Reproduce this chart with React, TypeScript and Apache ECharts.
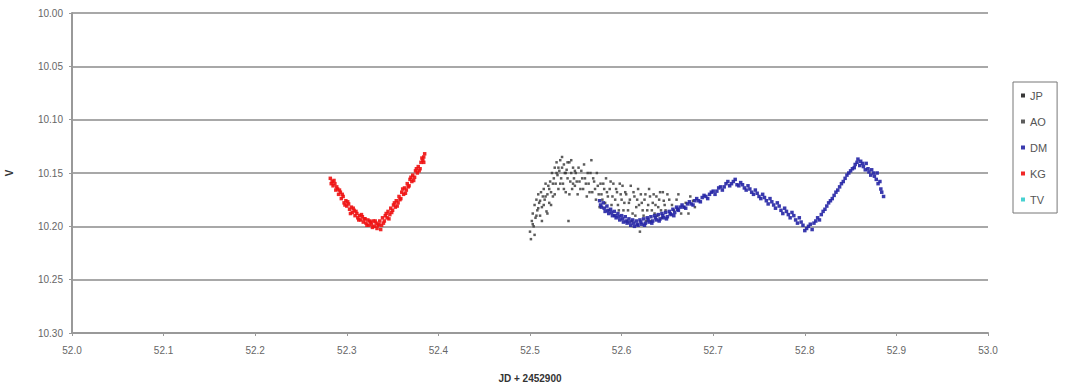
import React, { useEffect, useRef } from "react";
import * as echarts from "echarts";

const seriesNames = ["JP", "AO", "DM", "KG", "TV"];
const seriesColors = ["#222222", "#333333", "#2525a5", "#ee1111", "#33cccc"];

const xTicks = { min: 52.0, max: 53.0, interval: 0.1 };
const yTicks = { min: 10.0, max: 10.3, interval: 0.05 };

const JP: number[][] = [];
const TV: number[][] = [];

const KG: number[][] = [
  [52.282, 10.155], [52.284, 10.158], [52.285, 10.162], [52.287, 10.160], [52.288, 10.166],
  [52.290, 10.165], [52.291, 10.170], [52.293, 10.168], [52.294, 10.174], [52.296, 10.172],
  [52.297, 10.178], [52.299, 10.176], [52.300, 10.181], [52.302, 10.179], [52.303, 10.184],
  [52.305, 10.182], [52.306, 10.187], [52.308, 10.185], [52.309, 10.190], [52.311, 10.188],
  [52.312, 10.192], [52.314, 10.190], [52.315, 10.194], [52.317, 10.191], [52.318, 10.196],
  [52.320, 10.193], [52.321, 10.197], [52.323, 10.194], [52.324, 10.199], [52.326, 10.196],
  [52.327, 10.198], [52.329, 10.195], [52.330, 10.200], [52.332, 10.197], [52.333, 10.202],
  [52.335, 10.198], [52.336, 10.195], [52.338, 10.199], [52.339, 10.192], [52.341, 10.195],
  [52.342, 10.190], [52.344, 10.192], [52.345, 10.186], [52.347, 10.189], [52.348, 10.183],
  [52.350, 10.185], [52.351, 10.180], [52.353, 10.182], [52.354, 10.176], [52.356, 10.178],
  [52.357, 10.172], [52.359, 10.174], [52.360, 10.168], [52.362, 10.170], [52.363, 10.164],
  [52.365, 10.166], [52.366, 10.160], [52.368, 10.162], [52.369, 10.156], [52.371, 10.158],
  [52.372, 10.152], [52.374, 10.154], [52.375, 10.148], [52.377, 10.150], [52.378, 10.144],
  [52.380, 10.146], [52.381, 10.140], [52.383, 10.138], [52.384, 10.135], [52.385, 10.132],
  [52.283, 10.160], [52.286, 10.157], [52.289, 10.163], [52.292, 10.166], [52.295, 10.170],
  [52.298, 10.180], [52.301, 10.177], [52.304, 10.188], [52.307, 10.183], [52.310, 10.186],
  [52.313, 10.194], [52.316, 10.189], [52.319, 10.193], [52.322, 10.199], [52.325, 10.195],
  [52.328, 10.201], [52.331, 10.195], [52.334, 10.199], [52.337, 10.203], [52.340, 10.197],
  [52.343, 10.188], [52.346, 10.193], [52.349, 10.187], [52.352, 10.178], [52.355, 10.181],
  [52.358, 10.175], [52.361, 10.165], [52.364, 10.169], [52.367, 10.163], [52.370, 10.154],
  [52.373, 10.157], [52.376, 10.146], [52.379, 10.148], [52.382, 10.136], [52.384, 10.140],
];

const AO: number[][] = [
  [52.500, 10.205], [52.501, 10.212], [52.502, 10.195], [52.503, 10.188], [52.504, 10.200],
  [52.505, 10.180], [52.506, 10.192], [52.507, 10.175], [52.508, 10.185], [52.509, 10.170],
  [52.510, 10.178], [52.511, 10.190], [52.512, 10.168], [52.513, 10.182], [52.514, 10.172],
  [52.515, 10.165], [52.516, 10.175], [52.517, 10.160], [52.518, 10.186], [52.519, 10.170],
  [52.520, 10.162], [52.521, 10.178], [52.522, 10.158], [52.523, 10.168], [52.524, 10.150],
  [52.525, 10.172], [52.526, 10.155], [52.527, 10.145], [52.528, 10.160], [52.529, 10.140],
  [52.530, 10.152], [52.531, 10.165], [52.532, 10.148], [52.533, 10.138], [52.534, 10.155],
  [52.535, 10.145], [52.536, 10.160], [52.537, 10.142], [52.538, 10.150], [52.539, 10.168],
  [52.540, 10.147], [52.541, 10.155], [52.542, 10.195], [52.543, 10.140], [52.544, 10.158],
  [52.545, 10.150], [52.546, 10.165], [52.547, 10.145], [52.548, 10.155], [52.549, 10.162],
  [52.550, 10.150], [52.552, 10.170], [52.554, 10.158], [52.556, 10.148], [52.558, 10.165],
  [52.560, 10.155], [52.562, 10.172], [52.564, 10.160], [52.566, 10.150], [52.568, 10.168],
  [52.570, 10.158], [52.572, 10.175], [52.574, 10.162], [52.576, 10.182], [52.578, 10.170],
  [52.580, 10.160], [52.582, 10.178], [52.584, 10.168], [52.586, 10.185], [52.588, 10.158],
  [52.590, 10.172], [52.592, 10.190], [52.594, 10.165], [52.596, 10.180], [52.598, 10.160],
  [52.600, 10.175], [52.602, 10.185], [52.604, 10.168], [52.606, 10.195], [52.608, 10.178],
  [52.610, 10.162], [52.612, 10.188], [52.614, 10.172], [52.616, 10.182], [52.618, 10.165],
  [52.620, 10.205], [52.622, 10.178], [52.624, 10.190], [52.626, 10.170], [52.628, 10.185],
  [52.630, 10.165], [52.632, 10.195], [52.634, 10.178], [52.636, 10.188], [52.638, 10.172],
  [52.640, 10.182], [52.642, 10.168], [52.644, 10.192], [52.646, 10.176], [52.648, 10.185],
  [52.650, 10.170], [52.655, 10.180], [52.660, 10.175], [52.665, 10.188], [52.670, 10.178],
  [52.675, 10.172], [52.680, 10.182],
  [52.503, 10.198], [52.505, 10.208], [52.507, 10.190], [52.509, 10.183], [52.511, 10.176],
  [52.513, 10.195], [52.515, 10.180], [52.517, 10.172], [52.519, 10.188], [52.521, 10.165],
  [52.523, 10.180], [52.525, 10.160], [52.527, 10.170], [52.529, 10.150], [52.531, 10.145],
  [52.533, 10.160], [52.535, 10.135], [52.537, 10.165], [52.539, 10.150], [52.541, 10.140],
  [52.543, 10.170], [52.545, 10.138], [52.547, 10.160], [52.549, 10.148], [52.551, 10.158],
  [52.553, 10.145], [52.555, 10.165], [52.557, 10.155], [52.559, 10.142], [52.561, 10.160],
  [52.563, 10.150], [52.565, 10.168], [52.567, 10.138], [52.569, 10.155], [52.571, 10.165],
  [52.573, 10.150], [52.575, 10.170], [52.577, 10.160], [52.579, 10.175], [52.581, 10.165],
  [52.583, 10.155], [52.585, 10.172], [52.587, 10.165], [52.589, 10.180], [52.591, 10.160],
  [52.593, 10.175], [52.595, 10.168], [52.597, 10.185], [52.599, 10.170], [52.601, 10.162],
  [52.603, 10.178], [52.605, 10.170], [52.607, 10.185], [52.609, 10.175], [52.611, 10.195],
  [52.613, 10.168], [52.615, 10.190], [52.617, 10.175], [52.619, 10.180], [52.621, 10.170],
  [52.623, 10.185], [52.625, 10.175], [52.627, 10.195], [52.629, 10.180], [52.631, 10.172],
  [52.633, 10.185], [52.635, 10.170], [52.637, 10.180], [52.639, 10.190], [52.641, 10.175],
  [52.643, 10.185], [52.645, 10.168], [52.647, 10.180], [52.652, 10.175], [52.657, 10.185],
  [52.662, 10.170], [52.668, 10.182], [52.673, 10.188], [52.678, 10.176],
];

const DM: number[][] = [
  [52.576, 10.176], [52.578, 10.182], [52.580, 10.178], [52.582, 10.186], [52.584, 10.181],
  [52.586, 10.188], [52.588, 10.184], [52.590, 10.190], [52.592, 10.186], [52.594, 10.192],
  [52.596, 10.188], [52.598, 10.194], [52.600, 10.190], [52.602, 10.196], [52.604, 10.191],
  [52.606, 10.197], [52.608, 10.193], [52.610, 10.199], [52.612, 10.194], [52.614, 10.200],
  [52.616, 10.195], [52.618, 10.199], [52.620, 10.194], [52.622, 10.198], [52.624, 10.193],
  [52.626, 10.197], [52.628, 10.192], [52.630, 10.196], [52.632, 10.191], [52.634, 10.195],
  [52.636, 10.190], [52.638, 10.194], [52.640, 10.189], [52.642, 10.193], [52.644, 10.188],
  [52.646, 10.192], [52.648, 10.187], [52.650, 10.191], [52.652, 10.186], [52.654, 10.189],
  [52.656, 10.184], [52.658, 10.187], [52.660, 10.182], [52.662, 10.185], [52.666, 10.180],
  [52.670, 10.183], [52.674, 10.177], [52.678, 10.180], [52.682, 10.174], [52.686, 10.177],
  [52.690, 10.171], [52.694, 10.174], [52.698, 10.168], [52.702, 10.170], [52.706, 10.164],
  [52.710, 10.166], [52.714, 10.160], [52.718, 10.162], [52.722, 10.158], [52.726, 10.161],
  [52.730, 10.159], [52.734, 10.164], [52.738, 10.162], [52.742, 10.168], [52.746, 10.166],
  [52.750, 10.172], [52.754, 10.170], [52.758, 10.176], [52.762, 10.174], [52.766, 10.180],
  [52.770, 10.178], [52.774, 10.185], [52.778, 10.183], [52.782, 10.189], [52.786, 10.187],
  [52.790, 10.194], [52.794, 10.192], [52.798, 10.199], [52.802, 10.202], [52.806, 10.198],
  [52.810, 10.197], [52.814, 10.192], [52.818, 10.189], [52.822, 10.184], [52.826, 10.178],
  [52.830, 10.174], [52.834, 10.168], [52.838, 10.163], [52.842, 10.158], [52.846, 10.152],
  [52.850, 10.148], [52.854, 10.145], [52.857, 10.140], [52.860, 10.143], [52.863, 10.141],
  [52.866, 10.147], [52.869, 10.146], [52.872, 10.152], [52.875, 10.150], [52.878, 10.156],
  [52.880, 10.160], [52.883, 10.165], [52.886, 10.172],
  [52.577, 10.180], [52.581, 10.183], [52.585, 10.185], [52.589, 10.187], [52.593, 10.190],
  [52.597, 10.191], [52.601, 10.193], [52.605, 10.195], [52.609, 10.196], [52.613, 10.197],
  [52.617, 10.198], [52.621, 10.196], [52.625, 10.199], [52.629, 10.194], [52.633, 10.197],
  [52.637, 10.192], [52.641, 10.195], [52.645, 10.190], [52.649, 10.193], [52.653, 10.188],
  [52.657, 10.190], [52.661, 10.184], [52.664, 10.182], [52.668, 10.182], [52.672, 10.179],
  [52.676, 10.179], [52.680, 10.176], [52.684, 10.176], [52.688, 10.173], [52.692, 10.172],
  [52.696, 10.170], [52.700, 10.167], [52.704, 10.167], [52.708, 10.163], [52.712, 10.163],
  [52.716, 10.158], [52.720, 10.160], [52.724, 10.156], [52.728, 10.162], [52.732, 10.161],
  [52.736, 10.166], [52.740, 10.165], [52.744, 10.170], [52.748, 10.169], [52.752, 10.174],
  [52.756, 10.173], [52.760, 10.179], [52.764, 10.177], [52.768, 10.183], [52.772, 10.181],
  [52.776, 10.188], [52.780, 10.186], [52.784, 10.192], [52.788, 10.190], [52.792, 10.197],
  [52.796, 10.196], [52.800, 10.204], [52.804, 10.200], [52.808, 10.203], [52.812, 10.195],
  [52.816, 10.194], [52.820, 10.186], [52.824, 10.181], [52.828, 10.176], [52.832, 10.171],
  [52.836, 10.166], [52.840, 10.160], [52.844, 10.155], [52.848, 10.150], [52.852, 10.146],
  [52.855, 10.142], [52.858, 10.137], [52.861, 10.139], [52.864, 10.144], [52.867, 10.141],
  [52.870, 10.149], [52.873, 10.147], [52.876, 10.153], [52.879, 10.150], [52.882, 10.158],
  [52.884, 10.168],
];

const seriesData = [JP, AO, DM, KG, TV];

export default function App() {
  const ref = useRef<HTMLDivElement>(null);
  useEffect(() => {
    if (!ref.current) return;
    const chart = echarts.init(ref.current, null, { renderer: "svg" });
    const font = "Liberation Sans, Arial, sans-serif";
    chart.setOption({
      animation: false,
      backgroundColor: "#ffffff",
      textStyle: { fontFamily: font },
      grid: { left: 72, right: 83, top: 13, bottom: 51, outerBoundsMode: "none", containLabel: false },
      legend: {
        orient: "vertical",
        left: 1013,
        top: 82,
        padding: [8, 10, 8, 8],
        borderColor: "#777",
        borderWidth: 1,
        itemWidth: 4,
        itemHeight: 4,
        itemGap: 15,
        icon: "rect",
        textStyle: { fontSize: 11, color: "#555", fontFamily: font },
        data: seriesNames,
      },
      xAxis: {
        type: "value",
        min: xTicks.min,
        max: xTicks.max,
        interval: xTicks.interval,
        name: "JD + 2452900",
        nameLocation: "middle",
        nameGap: 40,
        nameTextStyle: { fontSize: 10, fontWeight: "bold", color: "#333" },
        axisLine: { show: true, lineStyle: { color: "#999", width: 2 } },
        axisTick: { show: true, length: 3, inside: false, lineStyle: { color: "#999" } },
        axisLabel: { fontSize: 10, color: "#666", margin: 12, formatter: (v: number) => v.toFixed(1) },
        splitLine: { show: false },
      },
      yAxis: {
        type: "value",
        inverse: true,
        min: yTicks.min,
        max: yTicks.max,
        interval: yTicks.interval,
        name: "V",
        nameLocation: "middle",
        nameRotate: 90,
        nameGap: 58,
        nameTextStyle: { fontSize: 10, fontWeight: "bold", color: "#333" },
        axisLine: { show: true, lineStyle: { color: "#999", width: 2 } },
        axisTick: { show: true, length: 3, lineStyle: { color: "#999" } },
        axisLabel: { fontSize: 10, color: "#666", margin: 9, formatter: (v: number) => v.toFixed(2) },
        splitLine: { show: true, lineStyle: { color: "#a8a8a8", width: 2 } },
      },
      series: seriesNames.map((name, i) => ({
        name,
        type: "scatter",
        data: seriesData[i],
        symbol: "rect",
        symbolSize: name === "AO" ? 2.5 : 3.5,
        itemStyle: { color: seriesColors[i], opacity: name === "AO" ? 0.8 : 0.9 },
      })),
    });
    return () => chart.dispose();
  }, []);
  return (
    <div
      ref={ref}
      style={{ position: "absolute", left: 0, top: 0, width: 1071, height: 384 }}
    />
  );
}
